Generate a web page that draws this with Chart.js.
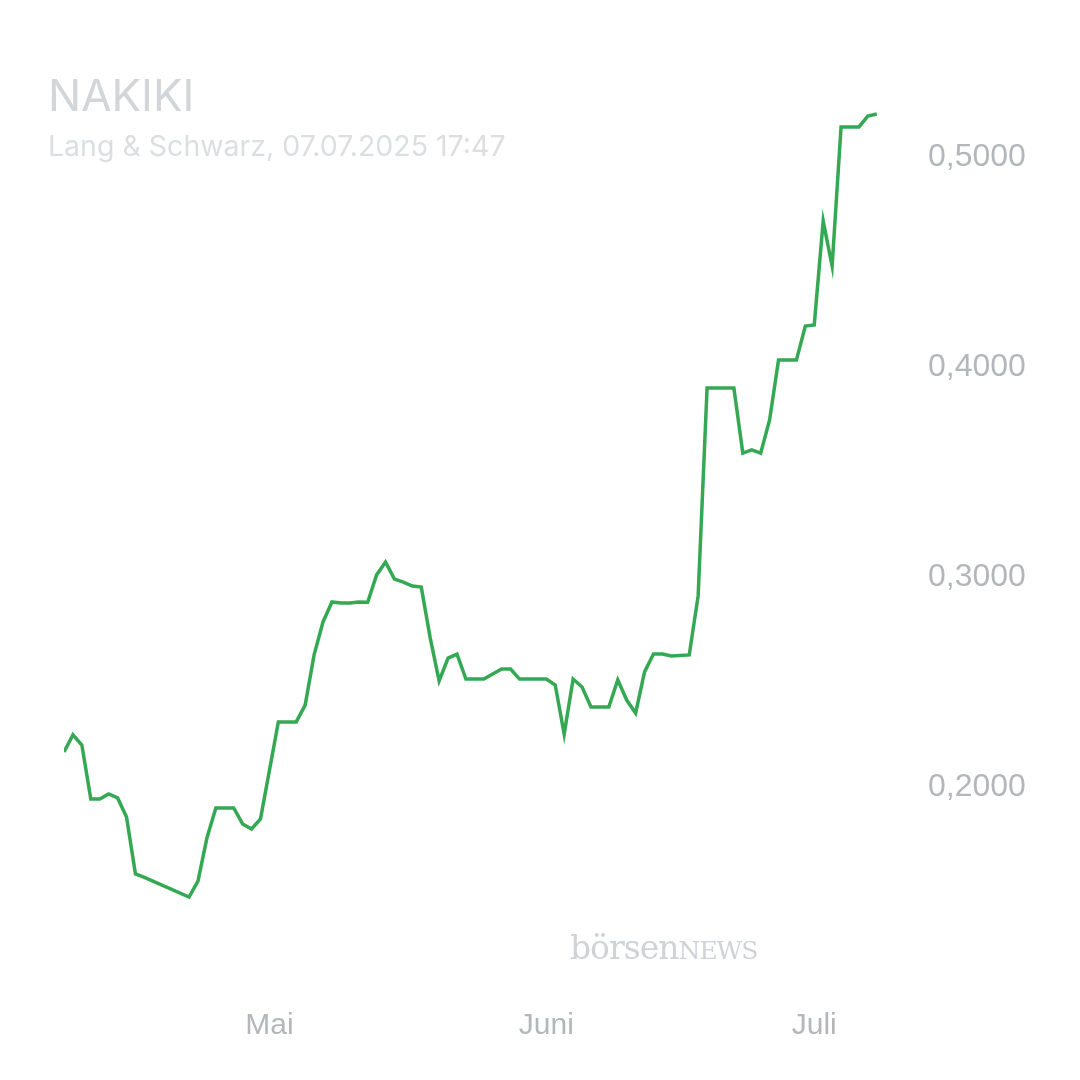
<!DOCTYPE html>
<html><head><meta charset="utf-8">
<script src="https://cdn.jsdelivr.net/npm/chart.js@4"></script>
<style>
body{margin:0;background:#fff;font-family:Inter,"Noto Sans",sans-serif}
#wrap{position:relative;width:1080px;height:1080px}
#t{position:absolute;left:48px;top:68px;font-size:44px;color:#d3d6d9}
#s{position:absolute;left:48px;top:128px;font-size:28.5px;color:#dcdfe2}
#w{position:absolute;left:570px;top:928px;font-family:"DejaVu Serif",serif;font-size:33px;color:#cfd3d6;letter-spacing:-1px}
</style></head><body>
<div id="wrap"><canvas id="c" width="1080" height="1080"></canvas>
<div id="t">NAKIKI</div><div id="s">Lang &amp; Schwarz, 07.07.2025 17:47</div>
<div id="w">börsen<span style="font-size:25px">NEWS</span></div></div>
<script>
// days since 08.04.2025
const days=[0,1,2,3,4,5,6,7,8,9,14,15,16,17,19,20,21,22,24,26,27,28,29,30,31,32,33,34,35,36,37,38,39,40,41,42,43,44,45,47,48,49,50,51,54,55,56,57,58,59,61,62,63,64,65,66,67,68,70,71,72,75,76,77,78,79,80,82,83,84,85,86,87,89,90,91]
const prices=[0.2167,0.2248,0.22,0.1943,0.1943,0.1967,0.1948,0.1857,0.1586,0.157,0.1476,0.1552,0.1757,0.19,0.19,0.1824,0.18,0.1848,0.231,0.231,0.239,0.2629,0.2786,0.2881,0.2876,0.2876,0.2881,0.288,0.301,0.3071,0.299,0.2976,0.2957,0.2952,0.271,0.2505,0.2614,0.2633,0.2514,0.2514,0.2538,0.2562,0.2562,0.2514,0.2514,0.2486,0.2252,0.2514,0.2476,0.2381,0.2381,0.251,0.2414,0.2352,0.2548,0.2633,0.2633,0.2624,0.2629,0.291,0.39,0.39,0.359,0.3605,0.359,0.3748,0.4033,0.4033,0.4195,0.42,0.4695,0.4481,0.5143,0.5143,0.5195,0.5205]
const monthTicks=[23,54,84]
const monthLabels=["Mai","Juni","Juli"]
const yTicks=[0.2,0.3,0.4,0.5]

new Chart(document.getElementById("c"),{
  type:"line",
  data:{datasets:[{data:days.map((d,i)=>({x:d,y:prices[i]})),borderColor:"#34a853",borderWidth:3.5,pointRadius:0,tension:0}]},
  options:{responsive:false,animation:false,
    layout:{padding:{left:64,top:52,right:0,bottom:0}},
    plugins:{legend:{display:false},tooltip:{enabled:false}},
    scales:{
      x:{type:"linear",min:0,max:93.6,grid:{display:false},border:{display:false},
        afterBuildTicks:s=>{s.ticks=monthTicks.map(v=>({value:v}))},
        afterFit:s=>{s.height=83},
        ticks:{autoSkip:false,maxRotation:0,color:"#b3b7bb",font:{size:30},padding:3,
          callback:v=>monthLabels[monthTicks.indexOf(v)]}},
      y:{position:"right",min:0.1,max:0.55,grid:{display:false},border:{display:false},
        afterBuildTicks:s=>{s.ticks=yTicks.map(v=>({value:v}))},
        afterFit:s=>{s.width=180},
        ticks:{color:"#b3b7bb",font:{size:32},padding:20,
          callback:v=>v.toFixed(4).replace(".",",")}}
    }}
})
</script></body></html>
